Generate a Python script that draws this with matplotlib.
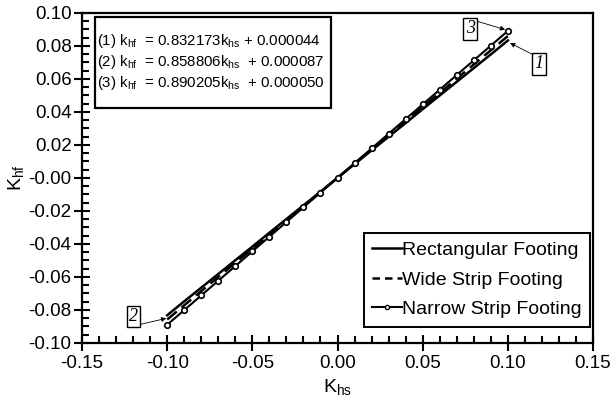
import numpy as np
import matplotlib.pyplot as plt
from matplotlib.patches import Rectangle
from matplotlib.ticker import MultipleLocator, FormatStrFormatter
from matplotlib.lines import Line2D

plt.rcParams["font.family"] = ["Liberation Sans", "DejaVu Sans"]
plt.rcParams["mathtext.fontset"] = "custom"
plt.rcParams["mathtext.rm"] = "Liberation Sans"
plt.rcParams["axes.unicode_minus"] = False

# data
k_hs = [-0.10, -0.09, -0.08, -0.07, -0.06, -0.05, -0.04, -0.03, -0.02, -0.01, 0.00,
        0.01, 0.02, 0.03, 0.04, 0.05, 0.06, 0.07, 0.08, 0.09, 0.10]
k_hf_rect = [-0.0832, -0.0748, -0.0665, -0.0582, -0.0499, -0.0416, -0.0332, -0.0249,
             -0.0166, -0.0083, 0.0000, 0.0084, 0.0167, 0.0250, 0.0333, 0.0417, 0.0500,
             0.0583, 0.0666, 0.0749, 0.0833]
k_hf_wide = [-0.0858, -0.0772, -0.0686, -0.0600, -0.0514, -0.0429, -0.0343, -0.0257,
             -0.0171, -0.0085, 0.0001, 0.0087, 0.0173, 0.0259, 0.0344, 0.0430, 0.0516,
             0.0602, 0.0688, 0.0774, 0.0860]
k_hf_narrow = [-0.0890, -0.0801, -0.0712, -0.0623, -0.0534, -0.0445, -0.0356, -0.0267,
               -0.0178, -0.0089, 0.0001, 0.0090, 0.0179, 0.0268, 0.0357, 0.0446, 0.0535,
               0.0624, 0.0713, 0.0802, 0.0891]
series_labels = ["Rectangular Footing", "Wide Strip Footing", "Narrow Strip Footing"]
equations = [
    r"(1) k$_{\mathregular{hf}}$  = 0.832173k$_{\mathregular{hs}}$ + 0.000044",
    r"(2) k$_{\mathregular{hf}}$  = 0.858806k$_{\mathregular{hs}}$  + 0.000087",
    r"(3) k$_{\mathregular{hf}}$  = 0.890205k$_{\mathregular{hs}}$  + 0.000050",
]

fig = plt.figure(figsize=(6.16, 4.03), dpi=100)
ax = fig.add_axes([0.1331, 0.149, 0.8296, 0.8188])

ax.plot(k_hs, k_hf_rect, color="black", lw=1.8)
ax.plot(k_hs, k_hf_wide, color="black", lw=1.8, ls=(0, (5, 2.5)))
ax.plot(k_hs, k_hf_narrow, color="black", lw=1.5, marker="o", ms=4,
        mfc="white", mec="black", mew=1.2)

ax.set_xlim(-0.15, 0.15)
ax.set_ylim(-0.10, 0.10)
ax.xaxis.set_major_locator(MultipleLocator(0.05))
ax.xaxis.set_minor_locator(MultipleLocator(0.01))
ax.yaxis.set_major_locator(MultipleLocator(0.02))
ax.yaxis.set_minor_locator(MultipleLocator(0.005))
ax.xaxis.set_major_formatter(FormatStrFormatter("%.2f"))
ax.yaxis.set_major_formatter(FormatStrFormatter("%.2f"))
ax.tick_params(which="major", direction="inout", length=11, width=1.5, labelsize=13.5)
ax.tick_params(which="minor", direction="in", length=5, width=1.5)
ax.tick_params(axis="x", which="major", pad=3)
ax.tick_params(axis="y", which="major", pad=2)
for s in ax.spines.values():
    s.set_linewidth(1.6)

ax.set_xlabel(r"K$_{\mathregular{hs}}$", fontsize=14, labelpad=4)
ax.set_ylabel(r"K$_{\mathregular{hf}}$", fontsize=14, labelpad=1)

# equation box
ax.add_patch(Rectangle((0.0254, 0.7121), 0.4618, 0.2758, transform=ax.transAxes,
                       fc="white", ec="black", lw=1.6, zorder=4))
ax.text(0.0294, 0.8515, "\n".join(equations), transform=ax.transAxes, fontsize=10.8,
        va="center", ha="left", linespacing=1.22, zorder=5)

# legend
handles = [
    Line2D([], [], color="black", lw=1.8),
    Line2D([], [], color="black", lw=1.8, ls=(0, (3, 2))),
    Line2D([], [], color="black", lw=1.5, marker="o", ms=3, mfc="white", mec="black"),
]
leg = ax.legend(handles, series_labels, loc="lower right", bbox_to_anchor=(0.994, 0.0485),
                fontsize=14, handlelength=1.5, handletextpad=0.0, borderaxespad=0.0,
                labelspacing=0.62, fancybox=False, edgecolor="black",
                framealpha=1, borderpad=0.45)
leg.get_frame().set_linewidth(1.4)

# curve labels
lab_kw = dict(fontsize=13, family=["Liberation Serif", "DejaVu Serif"], style="italic",
              ha="center", va="center",
              bbox=dict(boxstyle="square,pad=0.12", fc="white", ec="black", lw=1.0))
ax.annotate("3", xy=(0.0984, 0.0899), xytext=(0.0778, 0.0903),
            arrowprops=dict(arrowstyle="-|>", color="black", lw=0.6, mutation_scale=7,
                            relpos=(1, 1), shrinkA=0, shrinkB=0), **lab_kw)
ax.annotate("1", xy=(0.1013, 0.0818), xytext=(0.1183, 0.0691),
            arrowprops=dict(arrowstyle="-|>", color="black", lw=0.6, mutation_scale=7,
                            relpos=(0, 1), shrinkA=0, shrinkB=0), **lab_kw)
ax.annotate("2", xy=(-0.1005, -0.0851), xytext=(-0.1198, -0.0839),
            arrowprops=dict(arrowstyle="-|>", color="black", lw=0.6, mutation_scale=7,
                            relpos=(1, 0), shrinkA=0, shrinkB=0), **lab_kw)

fig.savefig("out.png", dpi=100)
